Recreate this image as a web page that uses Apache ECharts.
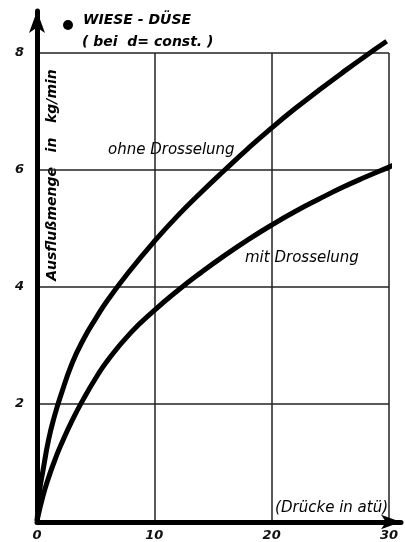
<!DOCTYPE html>
<html><head><meta charset="utf-8">
<script src="https://cdn.jsdelivr.net/npm/echarts@6/dist/echarts.min.js"></script>
<style>html,body{margin:0;padding:0;background:#fff}#c{width:405px;height:542px}</style>
</head><body><div id="c"></div>
<script>
// ---- data ----
const xTicks = [0, 10, 20, 30];
const yTicks = [0, 2, 4, 6, 8];
const ohneX = [0, 0.25, 0.5, 1, 1.5, 2, 3, 4, 5, 6, 8, 10, 12, 14, 16, 18, 20, 22, 24, 26, 28, 29.8];
const ohneY = [0, 0.55, 0.85, 1.4, 1.8, 2.13, 2.7, 3.12, 3.46, 3.77, 4.3, 4.78, 5.22, 5.62, 6.0, 6.37, 6.72, 7.05, 7.36, 7.66, 7.95, 8.2];
const mitX = [0, 0.5, 1, 1.5, 2, 3, 4, 5, 6, 8, 10, 12, 14, 16, 18, 20, 22, 24, 26, 28, 30, 30.7];
const mitY = [0, 0.42, 0.75, 1.03, 1.28, 1.72, 2.1, 2.44, 2.74, 3.22, 3.6, 3.94, 4.25, 4.54, 4.81, 5.06, 5.29, 5.5, 5.7, 5.88, 6.05, 6.11];
const titleLine1 = 'WIESE - DÜSE';
const titleLine2 = '( bei  d= const. )';
const yName = 'Ausflußmenge   in   kg/min';
const xName = '(Drücke in atü)';
const labelOhne = 'ohne Drosselung';
const labelMit = 'mit Drosselung';

const pairs = (xs, ys) => xs.map((x, i) => [x, ys[i]]);
const FONT = 'DejaVu Sans';
const chart = echarts.init(document.getElementById('c'), null, {renderer: 'canvas'});
chart.setOption({
  animation: false,
  backgroundColor: '#fff',
  grid: [
    {left: 37, right: 16, top: 53, bottom: 20},
    {left: 37, right: 4, top: 11, bottom: 20}
  ],
  xAxis: [
    {type: 'value', gridIndex: 0, min: 0, max: 30, interval: 10,
     axisLine: {show: false}, axisTick: {show: false},
     axisLabel: {margin: 8, color: '#111', fontFamily: FONT, fontStyle: 'italic', fontWeight: 'bold', fontSize: 13,
       formatter: v => xTicks.includes(v) ? String(v) : ''},
     splitLine: {show: true, lineStyle: {color: '#222', width: 1.5}}},
    {type: 'value', gridIndex: 1, min: 0, max: 1,
     axisLine: {show: true, symbol: ['none', 'arrow'], symbolSize: [11, 20], lineStyle: {color: '#000', width: 5}},
     axisTick: {show: false}, axisLabel: {show: false}, splitLine: {show: false}}
  ],
  yAxis: [
    {type: 'value', gridIndex: 0, min: 0, max: 8, interval: 2,
     axisLine: {show: false}, axisTick: {show: false},
     axisLabel: {margin: 13, color: '#111', fontFamily: FONT, fontStyle: 'italic', fontWeight: 'bold', fontSize: 13,
       formatter: v => (yTicks.includes(v) && v !== 0) ? String(v) : ''},
     splitLine: {show: true, lineStyle: {color: '#222', width: 1.5}}},
    {type: 'value', gridIndex: 1, min: 0, max: 1,
     axisLine: {show: true, symbol: ['none', 'arrow'], symbolSize: [12, 22], lineStyle: {color: '#000', width: 5}},
     axisTick: {show: false}, axisLabel: {show: false}, splitLine: {show: false}}
  ],
  series: [
    {name: labelOhne, type: 'line', xAxisIndex: 0, yAxisIndex: 0, smooth: 0.5, clip: false,
     showSymbol: false, data: pairs(ohneX, ohneY), lineStyle: {color: '#000', width: 5}},
    {name: labelMit, type: 'line', xAxisIndex: 0, yAxisIndex: 0, smooth: 0.5, clip: false,
     showSymbol: false, data: pairs(mitX, mitY), lineStyle: {color: '#000', width: 5}}
  ],
  graphic: [
    {type: 'circle', shape: {cx: 68, cy: 25, r: 5}, style: {fill: '#000'}},
    {type: 'text', x: 83, y: 20, style: {text: titleLine1, font: 'italic bold 14px "DejaVu Sans"', fill: '#000', textVerticalAlign: 'middle'}},
    {type: 'text', x: 82, y: 42, style: {text: titleLine2, font: 'italic bold 14px "DejaVu Sans"', fill: '#000', textVerticalAlign: 'middle'}},
    {type: 'text', x: 52, y: 175, rotation: Math.PI / 2,
     style: {text: yName, font: 'italic bold 14px "DejaVu Sans"', fill: '#000', textAlign: 'center', textVerticalAlign: 'middle'}},
    {type: 'text', x: 108, y: 150, style: {text: labelOhne, font: 'italic 15px "DejaVu Sans"', fill: '#000', textVerticalAlign: 'middle'}},
    {type: 'text', x: 245, y: 258, style: {text: labelMit, font: 'italic 15px "DejaVu Sans"', fill: '#000', textVerticalAlign: 'middle'}},
    {type: 'text', x: 388, y: 508, style: {text: xName, font: 'italic 15px "DejaVu Sans"', fill: '#000', textAlign: 'right', textVerticalAlign: 'middle', backgroundColor: '#fff'}}
  ]
});
</script></body></html>
